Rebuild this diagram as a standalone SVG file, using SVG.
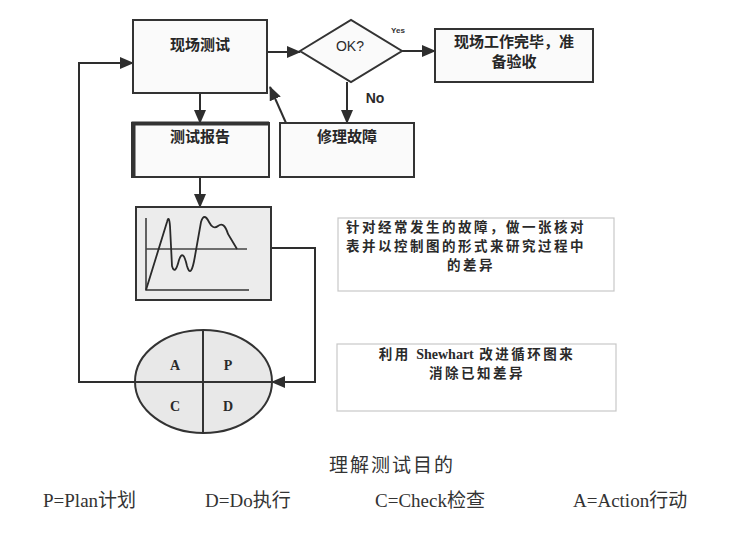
<svg xmlns="http://www.w3.org/2000/svg" width="729" height="539" viewBox="0 0 729 539">
<defs>
<style>
.box{fill:#fafafa;stroke:#333;stroke-width:2}
.ln{fill:none;stroke:#2e2e2e;stroke-width:2}
.cn{font-family:"Noto Sans CJK SC","Liberation Sans",sans-serif;font-weight:bold;fill:#262626;text-anchor:middle}
.nt{font-family:"Noto Sans CJK SC","Liberation Serif",serif;font-weight:bold;fill:#2a2a2a;text-anchor:middle;font-size:13.5px;letter-spacing:2.5px}
.lt{font-family:"Liberation Serif","Noto Sans CJK SC",serif;font-weight:bold;font-size:14px;fill:#2a2a2a;text-anchor:middle}
.bt{font-family:"Liberation Serif","Noto Sans CJK SC",serif;font-size:19px;fill:#333}
.tb{fill:none;stroke:#c8c8c8;stroke-width:1.2}
</style>
<marker id="ah" markerUnits="userSpaceOnUse" markerWidth="14" markerHeight="12" viewBox="0 0 14 12" refX="13" refY="6" orient="auto">
<path d="M0,0 L14,6 L0,12 Z" fill="#2e2e2e"/>
</marker>
</defs>
<rect width="729" height="539" fill="#fff"/>

<g id="connectors">
<path class="ln" d="M267,52 H300" marker-end="url(#ah)"/>
<path class="ln" d="M402,51 H435" marker-end="url(#ah)"/>
<path class="ln" d="M347,82 V123" marker-end="url(#ah)"/>
<path class="ln" d="M200,93 V123" marker-end="url(#ah)"/>
<path class="ln" d="M286,123 L270,87" marker-end="url(#ah)"/>
<path class="ln" d="M200,177 V207" marker-end="url(#ah)"/>
<path class="ln" d="M271,248 H315 V382 H272" marker-end="url(#ah)"/>
<path class="ln" d="M135,382 H79 V63 H133" marker-end="url(#ah)"/>
</g>

<g id="node-field-test">
<rect class="box" x="133" y="20" width="134" height="73"/>
<text class="cn" x="200" y="50" font-size="15">现场测试</text>
</g>

<g id="node-ok">
<polygon class="box" points="300,51 351,20 402,51 351,82"/>
<text x="350" y="51" font-family="Liberation Sans, sans-serif" font-size="14" fill="#2a2a2a" text-anchor="middle">OK?</text>
<text x="398" y="33" font-family="Liberation Sans, sans-serif" font-size="8" font-weight="bold" fill="#333" text-anchor="middle">Yes</text>
<text x="375" y="103" font-family="Liberation Sans, sans-serif" font-size="14" font-weight="bold" fill="#2a2a2a" text-anchor="middle">No</text>
</g>

<g id="node-done">
<rect class="box" x="435" y="29" width="158" height="53"/>
<text class="cn" x="514" y="47" font-size="15">现场工作完毕，准</text>
<text class="cn" x="514" y="67" font-size="15">备验收</text>
</g>

<g id="node-repair">
<rect class="box" x="280" y="123" width="134" height="54"/>
<text class="cn" x="347" y="142" font-size="15">修理故障</text>
</g>

<g id="node-report">
<rect class="box" x="132" y="123" width="137" height="54"/>
<path d="M133.5,177 V123.5 H269" fill="none" stroke="#333" stroke-width="4"/>
<text class="cn" x="200" y="142" font-size="15">测试报告</text>
</g>

<g id="node-chart">
<rect x="136" y="207" width="135" height="93" fill="#ececec" stroke="#333" stroke-width="2"/>
<path d="M146,218 V290 H249" fill="none" stroke="#333" stroke-width="1.5"/>
<path d="M146,249 H247" fill="none" stroke="#444" stroke-width="1.3"/>
<path d="M146,290 L167,222 Q169,214 170,226 L172,266 Q175,276 179,260 Q183,248 187,266 Q191,280 195,256 L201,222 Q204,212 209,222 Q213,230 218,226 Q224,221 228,234 L237,249" fill="none" stroke="#2a2a2a" stroke-width="1.8"/>
</g>

<g id="node-pdca">
<ellipse cx="203.5" cy="381.5" rx="68.5" ry="51.5" fill="#e8e8e8" stroke="#333" stroke-width="2"/>
<path d="M203,330 V433 M135,382 H272" fill="none" stroke="#333" stroke-width="2"/>
<text class="lt" x="175" y="370">A</text>
<text class="lt" x="228" y="370">P</text>
<text class="lt" x="175" y="411">C</text>
<text class="lt" x="228" y="411">D</text>
</g>

<g id="note-checklist">
<rect class="tb" x="338" y="218" width="276" height="73"/>
<text class="nt" x="466" y="232">针对经常发生的故障，做一张核对</text>
<text class="nt" x="466" y="251">表并以控制图的形式来研究过程中</text>
<text class="nt" x="471" y="270">的差异</text>
</g>

<g id="note-shewhart">
<rect class="tb" x="337" y="344" width="279" height="67"/>
<text class="nt" x="477" y="359">利用 <tspan font-family="Liberation Serif, serif" font-size="14" letter-spacing="0">Shewhart</tspan> 改进循环图来</text>
<text class="nt" x="477" y="378">消除已知差异</text>
</g>

<g id="caption">
<text class="bt" x="392" y="472" text-anchor="middle" font-size="18" letter-spacing="2">理解测试目的</text>
<text class="bt" x="43" y="507">P=Plan计划</text>
<text class="bt" x="205" y="507">D=Do执行</text>
<text class="bt" x="375" y="507">C=Check检查</text>
<text class="bt" x="573" y="507">A=Action行动</text>
</g>
</svg>
